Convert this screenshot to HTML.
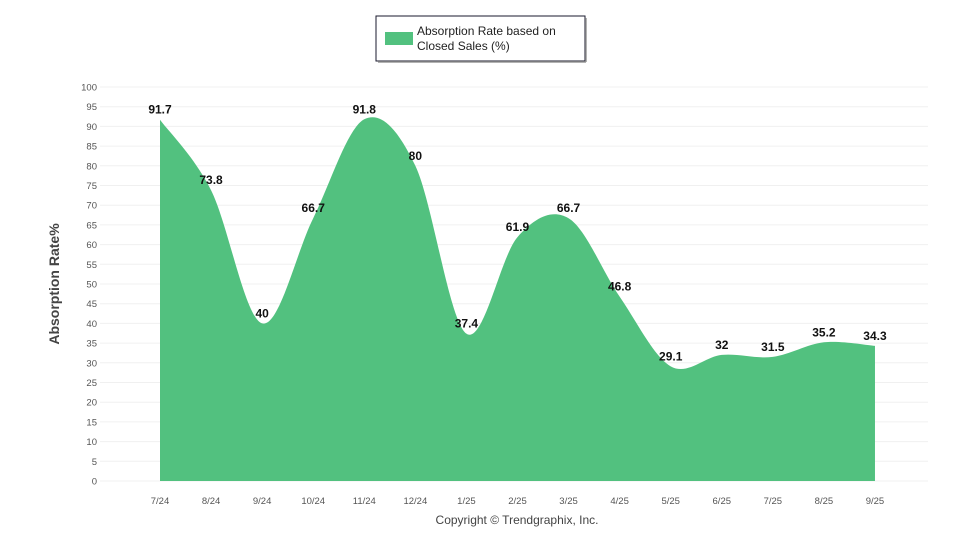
<!DOCTYPE html>
<html><head><meta charset="utf-8"><style>
body{margin:0;background:#fff;width:960px;height:550px;overflow:hidden;font-family:"Liberation Sans",Arial,sans-serif}
</style></head><body>
<svg id="s" width="960" height="550" xmlns="http://www.w3.org/2000/svg" font-family="Liberation Sans, Arial, sans-serif">
<rect x="376" y="16" width="209" height="45" fill="#fff" stroke="#1a1a2e" stroke-width="1"/>
<line x1="586" y1="18" x2="586" y2="62" stroke="#999" stroke-width="1.5"/>
<line x1="378" y1="62" x2="586" y2="62" stroke="#999" stroke-width="1.5"/>
<rect x="385" y="32" width="28" height="13" fill="#52c17f"/>
<text x="417" y="35" font-size="12" fill="#222">Absorption Rate based on</text>
<text x="417" y="50" font-size="12" fill="#222">Closed Sales (%)</text>
<g id="grid"></g>
<path id="area" fill="#52c17f"/>
<g id="lab"></g>
<text transform="translate(59,284) rotate(-90)" text-anchor="middle" font-size="14" font-weight="bold" fill="#444">Absorption Rate%</text>
<text x="517" y="524" text-anchor="middle" font-size="12" fill="#444">Copyright © Trendgraphix, Inc.</text>
</svg>
<script>
var v=[91.7,73.8,40,66.7,91.8,80,37.4,61.9,66.7,46.8,29.1,32,31.5,35.2,34.3];
var L=["7/24","8/24","9/24","10/24","11/24","12/24","1/25","2/25","3/25","4/25","5/25","6/25","7/25","8/25","9/25"];
function Y(a){return 481-3.94*a}
var g='';
for(var t=0;t<=100;t+=5){var y=Y(t);g+='<line x1="100" x2="928" y1="'+y+'" y2="'+y+'" stroke="#f0f0f0"/><text x="97" y="'+(y+3.5)+'" text-anchor="end" font-size="9.5" fill="#555">'+t+'</text>';}
var p=v.map(function(a,i){return [160+51.07*i,Y(a)]});
p.forEach(function(q,i){g+='<text x="'+q[0]+'" y="504" text-anchor="middle" font-size="9.5" fill="#555">'+L[i]+'</text>';});
document.getElementById('grid').innerHTML=g;
var d='M'+p[0][0]+' 481 L'+p[0][0]+' '+p[0][1];
var n=p.length;
for(var i=0;i<n-1;i++){
 var p0=p[Math.max(i-1,0)],p1=p[i],p2=p[i+1],p3=p[Math.min(i+2,n-1)];
 var c1x=p1[0]+(p2[0]-p0[0])/6,c1y=p1[1]+(p2[1]-p0[1])/6;
 var c2x=p2[0]-(p3[0]-p1[0])/6,c2y=p2[1]-(p3[1]-p1[1])/6;
 d+=' C'+c1x+' '+c1y+' '+c2x+' '+c2y+' '+p2[0]+' '+p2[1];
}
d+=' L'+p[n-1][0]+' 481 Z';
document.getElementById('area').setAttribute('d',d);
var l='';
p.forEach(function(q,i){l+='<text x="'+q[0]+'" y="'+(q[1]-6)+'" text-anchor="middle" font-size="12" font-weight="bold" fill="#111">'+v[i]+'</text>';});
document.getElementById('lab').innerHTML=l;
</script>
</body></html>
